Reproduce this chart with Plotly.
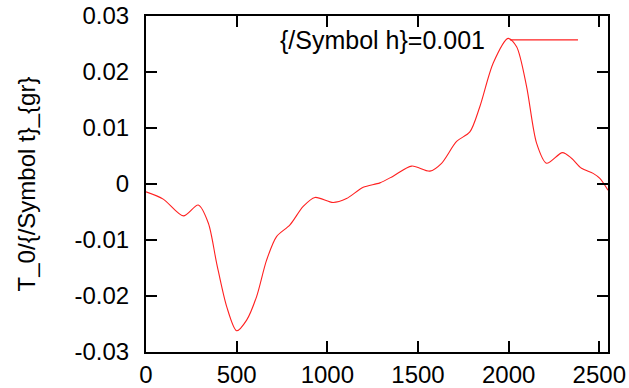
import plotly.graph_objects as go

x_vals = [0, 95, 206, 288, 344, 390, 445, 500, 555, 610, 665, 720, 794, 867, 932,
          1032, 1106, 1198, 1290, 1363, 1465, 1566, 1630, 1713, 1786, 1841, 1915,
          1997, 2044, 2099, 2154, 2209, 2297, 2347, 2402, 2466, 2503, 2548]
y_vals = [-0.0014, -0.0027, -0.0057, -0.00375, -0.0070, -0.0142, -0.0219, -0.0262,
          -0.0243, -0.0201, -0.0136, -0.0094, -0.0073, -0.0040, -0.0024,
          -0.0033, -0.0026, -0.0006, 0.0002, 0.0014, 0.0032, 0.0023, 0.0037,
          0.0076, 0.0093, 0.0138, 0.0216, 0.0260, 0.0245, 0.0174, 0.0073, 0.0037,
          0.0056, 0.0046, 0.0028, 0.0019, 0.0010, -0.0011]
x_ticks = [0, 500, 1000, 1500, 2000, 2500]
y_ticks = [-0.03, -0.02, -0.01, 0, 0.01, 0.02, 0.03]
y_tick_text = ["-0.03", "-0.02", "-0.01", "0", "0.01", "0.02", "0.03"]
legend_label = "{/Symbol h}=0.001"
y_title = "T_0/{/Symbol t}_{gr}"

FONT = "Liberation Sans, Arial, Helvetica, sans-serif"
RED = "#ff2020"

fig = go.Figure()
fig.add_trace(go.Scatter(x=x_vals, y=y_vals, mode="lines",
                         line=dict(color=RED, width=1.1, shape="spline", smoothing=0.8),
                         showlegend=False, hoverinfo="skip"))

axis_common = dict(showline=True, linecolor="black", linewidth=2, mirror="ticks",
                   ticks="inside", ticklen=11, tickwidth=2, tickcolor="black",
                   showgrid=False, zeroline=False, automargin=False,
                   ticklabeloverflow="allow",
                   tickfont=dict(family=FONT, size=24, color="black"))

fig.update_xaxes(range=[0, 2548], tickvals=x_ticks, ticklabelstandoff=0, **axis_common)
fig.update_yaxes(range=[-0.03, 0.03], tickvals=y_ticks, ticktext=y_tick_text,
                 ticklabelstandoff=10,
                 title=dict(text=y_title, font=dict(family=FONT, size=24, color="black"),
                            standoff=32),
                 **axis_common)

fig.add_annotation(xref="paper", yref="paper", x=0.738, y=0.929, xanchor="right",
                   yanchor="middle", text=legend_label, showarrow=False,
                   font=dict(family=FONT, size=25, color="black"))
fig.add_shape(type="line", xref="paper", yref="paper", x0=0.788, x1=0.935,
              y0=0.929, y1=0.929, line=dict(color=RED, width=1.1))

fig.update_layout(width=629, height=388, margin=dict(l=146, r=21, t=16, b=36),
                  plot_bgcolor="white", paper_bgcolor="white",
                  font=dict(family=FONT, size=24, color="black"))

fig.write_html("out.html", config={"displayModeBar": False},
               post_script="document.body.style.margin='0';document.body.style.overflow='hidden';")
